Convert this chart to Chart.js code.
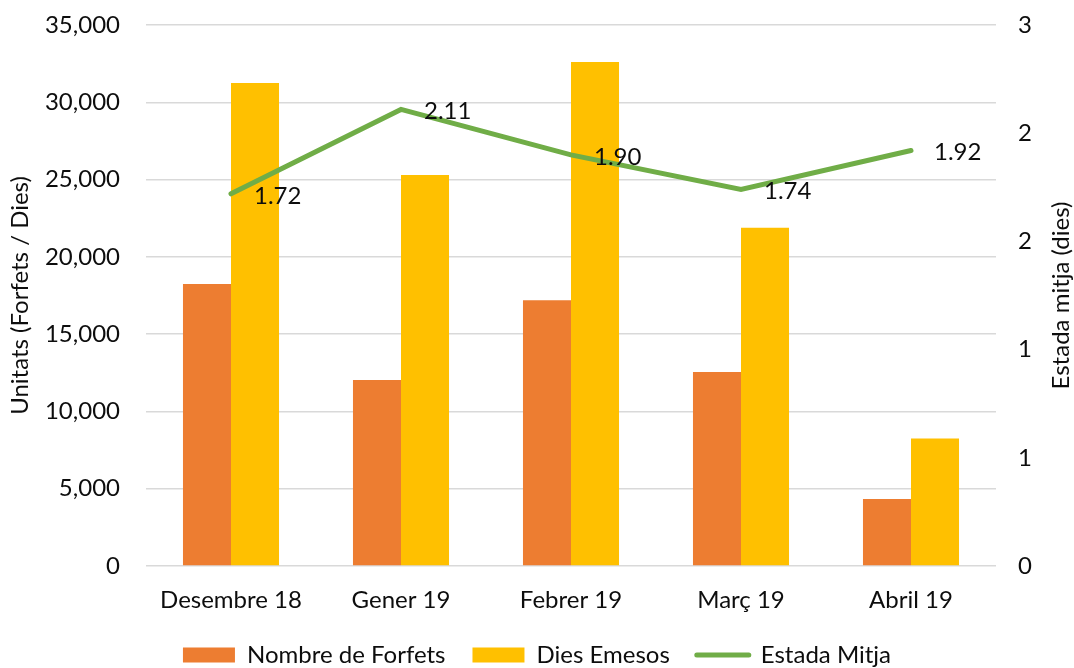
<!DOCTYPE html>
<html>
<head>
<meta charset="utf-8">
<title>Forfets i dies emesos</title>
<script src="https://cdn.jsdelivr.net/npm/chart.js@4/dist/chart.umd.min.js"></script>
<style>
  body { margin: 0; background: #fff; }
  .chart-box { width: 1074px; height: 668px; position: relative; }
</style>
</head>
<body>
<div class="chart-box"><canvas id="forfetsChart"></canvas></div>
<script>
// Monthly figures
const months = ['Desembre 18', 'Gener 19', 'Febrer 19', 'Març 19', 'Abril 19'];
const forfets = [18250, 12030, 17200, 12550, 4330];
const diesEmesos = [31250, 25290, 32600, 21880, 8250];
const estadaMitja = [1.72, 2.11, 1.90, 1.74, 1.92];

// Axis ticks
const leftTickLabels = ['0', '5,000', '10,000', '15,000', '20,000', '25,000', '30,000', '35,000'];
const rightTickLabels = ['0', '1', '1', '2', '2', '3'];
const leftMax = 35000, leftStep = 5000;
const rightMax = 2.5, rightStep = 0.5;

const textColor = '#0d0d0d';
const fontFamily = 'Lato, "Open Sans", sans-serif';
const fontSize = 24;
const hidden = 'rgba(0,0,0,0)';

Chart.defaults.font.family = fontFamily;
Chart.defaults.font.size = fontSize;
Chart.defaults.color = textColor;

// Value labels next to the line points
const lineLabels = {
  id: 'lineLabels',
  afterDatasetsDraw(chart) {
    const meta = chart.getDatasetMeta(2);
    const ctx = chart.ctx;
    ctx.save();
    ctx.font = fontSize + 'px ' + fontFamily;
    ctx.fillStyle = textColor;
    ctx.textAlign = 'left';
    ctx.textBaseline = 'middle';
    meta.data.forEach((pt, i) => {
      ctx.fillText(estadaMitja[i].toFixed(2), pt.x + 23, pt.y + 2);
    });
    ctx.restore();
  }
};

// Right axis title, reading bottom to top
const rightTitle = {
  id: 'rightTitle',
  afterDraw(chart) {
    const area = chart.chartArea;
    const ctx = chart.ctx;
    ctx.save();
    ctx.translate(chart.scales.y2.right - 13, (area.top + area.bottom) / 2);
    ctx.rotate(-Math.PI / 2);
    ctx.font = fontSize + 'px ' + fontFamily;
    ctx.fillStyle = textColor;
    ctx.textAlign = 'center';
    ctx.textBaseline = 'middle';
    ctx.fillText('Estada mitja (dies)', 0, 0);
    ctx.restore();
  }
};

const ctx = document.getElementById('forfetsChart').getContext('2d');
new Chart(ctx, {
  type: 'bar',
  data: {
    labels: months,
    datasets: [{
      label: 'Nombre de Forfets',
      data: forfets,
      backgroundColor: '#ED7D31',
      borderWidth: 0,
      yAxisID: 'y',
      order: 2
    }, {
      label: 'Dies Emesos',
      data: diesEmesos,
      backgroundColor: '#FFC000',
      borderWidth: 0,
      yAxisID: 'y',
      order: 2
    }, {
      type: 'line',
      label: 'Estada Mitja',
      data: estadaMitja,
      borderColor: '#70AD47',
      backgroundColor: '#70AD47',
      borderWidth: 5,
      borderCapStyle: 'round',
      pointRadius: 0,
      tension: 0,
      yAxisID: 'y2',
      order: 1
    }]
  },
  options: {
    responsive: true,
    maintainAspectRatio: false,
    animation: false,
    events: [],
    layout: { padding: { top: 25, bottom: -9, left: 0, right: 0 } },
    datasets: {
      bar: { categoryPercentage: 0.565, barPercentage: 1.0 }
    },
    plugins: {
      tooltip: { enabled: false },
      legend: {
        position: 'bottom',
        labels: {
          usePointStyle: true,
          pointStyleWidth: 52,
          boxHeight: 15,
          padding: 27,
          color: textColor,
          generateLabels: chart => chart.data.datasets.map((ds, i) => ({
            text: ds.label,
            fillStyle: ds.backgroundColor,
            strokeStyle: ds.type === 'line' ? ds.borderColor : ds.backgroundColor,
            lineWidth: ds.type === 'line' ? 5 : 0,
            lineCap: 'round',
            pointStyle: ds.type === 'line' ? 'line' : 'rect',
            fontColor: textColor,
            hidden: false,
            datasetIndex: i
          }))
        }
      }
    },
    scales: {
      x: {
        grid: { display: false, drawTicks: false },
        border: { display: false },
        ticks: { padding: 20, maxRotation: 0 },
        afterFit: scale => { scale.height = 50; }
      },
      y: {
        position: 'left',
        min: 0,
        max: leftMax,
        ticks: {
          stepSize: leftStep,
          padding: 0,
          callback: (value, index) => leftTickLabels[index]
        },
        // invisible tick marks keep the labels away from the plot
        grid: { color: '#d9d9d9', lineWidth: 1.5, tickLength: 26, tickColor: hidden },
        border: { display: false },
        title: {
          display: true,
          text: 'Unitats (Forfets / Dies)',
          padding: { top: 6, bottom: 0 }
        },
        afterFit: scale => { scale.width = 146; }
      },
      y2: {
        position: 'right',
        min: 0,
        max: rightMax,
        ticks: {
          stepSize: rightStep,
          padding: 0,
          callback: (value, index) => rightTickLabels[index]
        },
        grid: { drawOnChartArea: false, tickLength: 22, tickColor: hidden },
        border: { display: false },
        afterFit: scale => { scale.width = 78; }
      }
    }
  },
  plugins: [lineLabels, rightTitle]
});
</script>
</body>
</html>
